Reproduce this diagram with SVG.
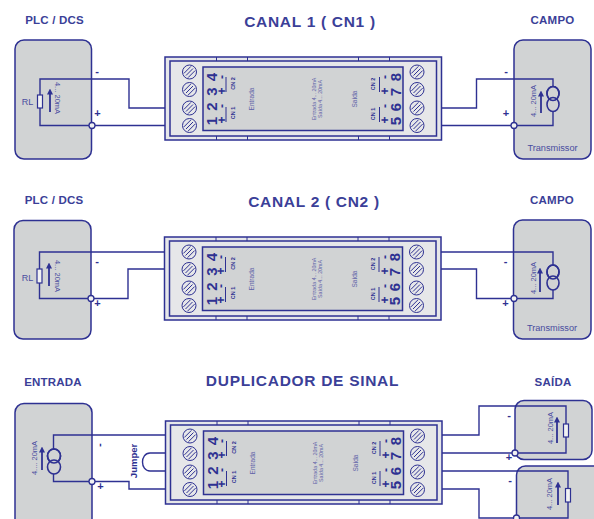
<svg xmlns="http://www.w3.org/2000/svg" xmlns:xlink="http://www.w3.org/1999/xlink" width="594" height="519" viewBox="0 0 594 519">
<style>
text{font-family:"Liberation Sans",Arial,sans-serif;fill:#2e3192}
.h{font-weight:bold;font-size:11.5px;text-anchor:middle;fill:#3b3f98;letter-spacing:.2px}
.t{font-weight:bold;font-size:15.5px;text-anchor:middle;fill:#3b3f98;letter-spacing:.7px}
.box{fill:#d1d3d4;stroke:#2e3192;stroke-width:1.5}
.w{fill:none;stroke:#2e3192;stroke-width:1.4}
.o{fill:#e6e7e9;stroke:#2e3192;stroke-width:1.5}
.p{fill:#d1d3d4;stroke:#2e3192;stroke-width:1.5}
.tk{stroke:#2e3192;stroke-width:1;fill:none}
.ar{stroke:#2e3192;stroke-width:1.8;fill:none}
.sc{fill:#e6e7e9;stroke:#2e3192;stroke-width:1}
.d{font-weight:bold;font-size:15px;text-anchor:middle}
.s{font-weight:bold;font-size:12px;text-anchor:middle}
.c{font-weight:bold;font-size:5.5px;text-anchor:middle}
.l{font-size:5.3px;text-anchor:middle;fill:#5f62a8}
.m{font-size:6.5px;text-anchor:middle;fill:#5f62a8}
.v{font-size:7.5px;text-anchor:middle;fill:#4a4da0}
.r{font-size:9.2px;text-anchor:middle;fill:#4a4da0}
.sg{font-weight:bold;font-size:11px;text-anchor:middle}
.rs{fill:#f1f2f2;stroke:#2e3192;stroke-width:1.2}
.e{fill:#d1d3d4;stroke:#2e3192;stroke-width:1.6}
.n{fill:#f1f2f2;stroke:#2e3192;stroke-width:1.3}
</style>
<defs>
<g id="sw"><circle class="sc" r="7"/><path class="tk" d="M-5.600 1.400L1.400-5.600M-3.500 3.500L3.500-3.500M-1.400 5.600L5.600-1.400"/></g>
<marker id="ah" markerWidth="6" markerHeight="6" refX="0.5" refY="3" orient="auto" markerUnits="userSpaceOnUse"><path d="M0 0L6 3L0 6z" fill="#2e3192"/></marker>
</defs>

<g id="titles">
<text class="t" x="310" y="27">CANAL 1 ( CN1 )</text>
<text class="h" x="54.500" y="24">PLC / DCS</text>
<text class="h" x="552.500" y="24">CAMPO</text>
<text class="t" x="314" y="207">CANAL 2 ( CN2 )</text>
<text class="h" x="54" y="204">PLC / DCS</text>
<text class="h" x="552" y="204">CAMPO</text>
<text class="t" x="302.500" y="386">DUPLICADOR DE SINAL</text>
<text class="h" x="53" y="386">ENTRADA</text>
<text class="h" x="553" y="386">SAÍDA</text>
</g>

<g id="plc1"><rect class="box" x="15" y="40" width="76.500" height="119" rx="9"/><text class="r" style="font-size:9px" x="27.500" y="105">RL</text></g>
<g id="campo1"><rect class="box" x="514" y="40" width="77" height="119" rx="9"/><text class="r" x="552.500" y="151">Transmissor</text></g>
<g id="plc2"><rect class="box" x="14" y="220.500" width="77" height="118.500" rx="9"/><text class="r" style="font-size:9px" x="27.500" y="281">RL</text></g>
<g id="campo2"><rect class="box" x="513.500" y="220" width="77.500" height="119" rx="9"/><text class="r" x="552" y="331">Transmissor</text></g>
<g id="entrada"><rect class="box" x="15" y="403.500" width="77" height="125" rx="9"/></g>
<g id="saida1"><rect class="box" x="515" y="400.500" width="77" height="59" rx="9"/></g>
<g id="saida2"><rect class="box" x="516.500" y="466" width="90" height="70" rx="9"/></g>

<g id="module1">
<rect class="o" x="165" y="57" width="276.500" height="83"/><rect class="o" x="170" y="61" width="266.500" height="75"/><rect class="p" x="203" y="67" width="200" height="63.500"/>
<path class="tk" d="M216.500 57V61M247.500 57V61M358.500 57V61M389.500 57V61M216.500 136V140M247.500 136V140M358.500 136V140M389.500 136V140M226 77V92M226 107V122M379.500 77V92M379.500 107V122"/>
<use xlink:href="#sw" href="#sw" x="189.500" y="72"/><use xlink:href="#sw" href="#sw" x="189.500" y="89.500"/><use xlink:href="#sw" href="#sw" x="189.500" y="108"/><use xlink:href="#sw" href="#sw" x="189.500" y="125.500"/>
<use xlink:href="#sw" href="#sw" x="417" y="72"/><use xlink:href="#sw" href="#sw" x="417" y="89.500"/><use xlink:href="#sw" href="#sw" x="417" y="108"/><use xlink:href="#sw" href="#sw" x="417" y="125.500"/>
<text class="d" transform="translate(217 121) rotate(-90)">1</text><text class="d" transform="translate(217 106.500) rotate(-90)">2</text><text class="d" transform="translate(217 91.500) rotate(-90)">3</text><text class="d" transform="translate(217 77) rotate(-90)">4</text>
<text class="s" transform="translate(225.500 120) rotate(-90)">+</text><text class="s" transform="translate(225.500 106) rotate(-90)">-</text><text class="s" transform="translate(225.500 91) rotate(-90)">+</text><text class="s" transform="translate(225.500 77) rotate(-90)">-</text>
<text class="c" transform="translate(235 113) rotate(-90)">CN 1</text><text class="c" transform="translate(235 83.500) rotate(-90)">CN 2</text>
<text class="m" transform="translate(254 99) rotate(-90)">Entrada</text>
<text class="l" transform="translate(316 99) rotate(-90)">Entrada 4... 20mA</text><text class="l" transform="translate(322 99) rotate(-90)">Saída 4... 20mA</text>
<text class="m" transform="translate(357 99) rotate(-90)">Saída</text>
<text class="c" transform="translate(375 114) rotate(-90)">CN 1</text><text class="c" transform="translate(375 84) rotate(-90)">CN 2</text>
<text class="s" transform="translate(389 120) rotate(-90)">+</text><text class="s" transform="translate(389 106) rotate(-90)">-</text><text class="s" transform="translate(389 91) rotate(-90)">+</text><text class="s" transform="translate(389 77) rotate(-90)">-</text>
<text class="d" transform="translate(400.500 121) rotate(-90)">5</text><text class="d" transform="translate(400.500 107) rotate(-90)">6</text><text class="d" transform="translate(400.500 92) rotate(-90)">7</text><text class="d" transform="translate(400.500 77) rotate(-90)">8</text>
</g>

<g id="module2" transform="translate(-0.5 180)">
<rect class="o" x="165" y="57" width="276.500" height="83"/><rect class="o" x="170" y="61" width="266.500" height="75"/><rect class="p" x="203" y="67" width="200" height="63.500"/>
<path class="tk" d="M216.500 57V61M247.500 57V61M358.500 57V61M389.500 57V61M216.500 136V140M247.500 136V140M358.500 136V140M389.500 136V140M226 77V92M226 107V122M379.500 77V92M379.500 107V122"/>
<use xlink:href="#sw" href="#sw" x="189.500" y="72"/><use xlink:href="#sw" href="#sw" x="189.500" y="89.500"/><use xlink:href="#sw" href="#sw" x="189.500" y="108"/><use xlink:href="#sw" href="#sw" x="189.500" y="125.500"/>
<use xlink:href="#sw" href="#sw" x="417" y="72"/><use xlink:href="#sw" href="#sw" x="417" y="89.500"/><use xlink:href="#sw" href="#sw" x="417" y="108"/><use xlink:href="#sw" href="#sw" x="417" y="125.500"/>
<text class="d" transform="translate(217 121) rotate(-90)">1</text><text class="d" transform="translate(217 106.500) rotate(-90)">2</text><text class="d" transform="translate(217 91.500) rotate(-90)">3</text><text class="d" transform="translate(217 77) rotate(-90)">4</text>
<text class="s" transform="translate(225.500 120) rotate(-90)">+</text><text class="s" transform="translate(225.500 106) rotate(-90)">-</text><text class="s" transform="translate(225.500 91) rotate(-90)">+</text><text class="s" transform="translate(225.500 77) rotate(-90)">-</text>
<text class="c" transform="translate(235 113) rotate(-90)">CN 1</text><text class="c" transform="translate(235 83.500) rotate(-90)">CN 2</text>
<text class="m" transform="translate(254 99) rotate(-90)">Entrada</text>
<text class="l" transform="translate(316 99) rotate(-90)">Entrada 4... 20mA</text><text class="l" transform="translate(322 99) rotate(-90)">Saída 4... 20mA</text>
<text class="m" transform="translate(357 99) rotate(-90)">Saída</text>
<text class="c" transform="translate(375 114) rotate(-90)">CN 1</text><text class="c" transform="translate(375 84) rotate(-90)">CN 2</text>
<text class="s" transform="translate(389 120) rotate(-90)">+</text><text class="s" transform="translate(389 106) rotate(-90)">-</text><text class="s" transform="translate(389 91) rotate(-90)">+</text><text class="s" transform="translate(389 77) rotate(-90)">-</text>
<text class="d" transform="translate(400.500 121) rotate(-90)">5</text><text class="d" transform="translate(400.500 107) rotate(-90)">6</text><text class="d" transform="translate(400.500 92) rotate(-90)">7</text><text class="d" transform="translate(400.500 77) rotate(-90)">8</text>
</g>

<g id="module3" transform="translate(0.5 364)">
<rect class="o" x="165" y="57" width="276.500" height="83"/><rect class="o" x="170" y="61" width="266.500" height="75"/><rect class="p" x="203" y="67" width="200" height="63.500"/>
<path class="tk" d="M216.500 57V61M247.500 57V61M358.500 57V61M389.500 57V61M216.500 136V140M247.500 136V140M358.500 136V140M389.500 136V140M226 77V92M226 107V122M379.500 77V92M379.500 107V122"/>
<use xlink:href="#sw" href="#sw" x="189.500" y="72"/><use xlink:href="#sw" href="#sw" x="189.500" y="89.500"/><use xlink:href="#sw" href="#sw" x="189.500" y="108"/><use xlink:href="#sw" href="#sw" x="189.500" y="125.500"/>
<use xlink:href="#sw" href="#sw" x="417" y="72"/><use xlink:href="#sw" href="#sw" x="417" y="89.500"/><use xlink:href="#sw" href="#sw" x="417" y="108"/><use xlink:href="#sw" href="#sw" x="417" y="125.500"/>
<text class="d" transform="translate(217 121) rotate(-90)">1</text><text class="d" transform="translate(217 106.500) rotate(-90)">2</text><text class="d" transform="translate(217 91.500) rotate(-90)">3</text><text class="d" transform="translate(217 77) rotate(-90)">4</text>
<text class="s" transform="translate(225.500 120) rotate(-90)">+</text><text class="s" transform="translate(225.500 106) rotate(-90)">-</text><text class="s" transform="translate(225.500 91) rotate(-90)">+</text><text class="s" transform="translate(225.500 77) rotate(-90)">-</text>
<text class="c" transform="translate(235 113) rotate(-90)">CN 1</text><text class="c" transform="translate(235 83.500) rotate(-90)">CN 2</text>
<text class="m" transform="translate(254 99) rotate(-90)">Entrada</text>
<text class="l" transform="translate(316 99) rotate(-90)">Entrada 4... 20mA</text><text class="l" transform="translate(322 99) rotate(-90)">Saída 4... 20mA</text>
<text class="m" transform="translate(357 99) rotate(-90)">Saída</text>
<text class="c" transform="translate(375 114) rotate(-90)">CN 1</text><text class="c" transform="translate(375 84) rotate(-90)">CN 2</text>
<text class="s" transform="translate(389 120) rotate(-90)">+</text><text class="s" transform="translate(389 106) rotate(-90)">-</text><text class="s" transform="translate(389 91) rotate(-90)">+</text><text class="s" transform="translate(389 77) rotate(-90)">-</text>
<text class="d" transform="translate(400.500 121) rotate(-90)">5</text><text class="d" transform="translate(400.500 107) rotate(-90)">6</text><text class="d" transform="translate(400.500 92) rotate(-90)">7</text><text class="d" transform="translate(400.500 77) rotate(-90)">8</text>
</g>

<g id="connectors">
<path class="w" d="M165 108H129V79H40V125.500H165"/>
<path class="w" d="M441.500 108H476.500V79H553V125.500H441.500"/>
<path class="w" d="M164.500 252H39.500V298.500H128V269H164.500"/>
<path class="w" d="M441 252H553V298.500H476.500V269H441"/>
<path class="w" d="M165.500 435H53.500V481.500H129V489H165.500"/>
<path class="w" d="M165.500 453H150C140 453 140 471 150 471H165.500"/>
<path class="w" d="M442 435H479V406H566V453H442"/>
<path class="w" d="M442 471H568V518H479V489H442"/>
<path class="ar" marker-end="url(#ah)" d="M50 112V94"/>
<path class="ar" marker-end="url(#ah)" d="M541 113V96"/>
<path class="ar" marker-end="url(#ah)" d="M49 286V268"/>
<path class="ar" marker-end="url(#ah)" d="M540 292V273"/>
<path class="ar" marker-end="url(#ah)" d="M42 470V452"/>
<path class="ar" marker-end="url(#ah)" d="M557 443V422"/>
<path class="ar" marker-end="url(#ah)" d="M558 505V487"/>
</g>

<g id="rl1"><rect class="rs" x="37.500" y="95" width="5" height="13"/></g>
<g id="src1"><ellipse class="e" cx="553" cy="93.500" rx="6" ry="7"/><ellipse class="e" cx="553" cy="104.500" rx="6" ry="7"/><ellipse class="e" style="fill:none" cx="553" cy="93.500" rx="6" ry="7"/></g>
<g id="rl2"><rect class="rs" x="37" y="269" width="5" height="14"/></g>
<g id="src2"><ellipse class="e" cx="553" cy="272" rx="6" ry="7"/><ellipse class="e" cx="553" cy="283" rx="6" ry="7"/><ellipse class="e" style="fill:none" cx="553" cy="272" rx="6" ry="7"/></g>
<g id="src3"><ellipse class="e" cx="54" cy="456" rx="6.500" ry="7"/><ellipse class="e" cx="54" cy="467" rx="6.500" ry="7"/><ellipse class="e" style="fill:none" cx="54" cy="456" rx="6.500" ry="7"/></g>
<g id="rl3"><rect class="rs" x="563.500" y="424" width="5" height="13"/></g>
<g id="rl4"><rect class="rs" x="565.500" y="488.500" width="5" height="13.500"/></g>
<g id="nodes-dot">
<circle class="n" cx="92" cy="125.500" r="3"/><circle class="n" cx="514" cy="125.500" r="3"/>
<circle class="n" cx="91" cy="298.500" r="3"/><circle class="n" cx="514" cy="298.500" r="3"/>
<circle class="n" cx="92" cy="481.500" r="3"/><circle class="n" cx="515" cy="453" r="3"/><circle class="n" cx="516.500" cy="518" r="3"/>
</g>
<g id="labels">
<text class="v" transform="translate(54.500 98) rotate(90)">4... 20mA</text>
<text class="v" transform="translate(536 101) rotate(-90)">4... 20mA</text>
<text class="v" transform="translate(54.500 276) rotate(90)">4... 20mA</text>
<text class="v" transform="translate(536 278) rotate(-90)">4... 20mA</text>
<text class="v" transform="translate(37 458) rotate(-90)">4.... 20mA</text>
<text class="v" transform="translate(553 428) rotate(-90)">4... 20mA</text>
<text class="v" transform="translate(552 494) rotate(-90)">4... 20mA</text>
<text class="sg" transform="translate(137 461) rotate(-90)" style="font-size:9.500px">Jumper</text>
<text class="sg" x="97" y="75">-</text><text class="sg" x="97.500" y="117">+</text>
<text class="sg" x="506" y="75">-</text><text class="sg" x="506" y="117">+</text>
<text class="sg" x="97" y="265">-</text><text class="sg" x="97.500" y="307">+</text>
<text class="sg" x="505.500" y="265">-</text><text class="sg" x="505.500" y="307">+</text>
<text class="sg" transform="translate(97.500 445) rotate(90)">-</text><text class="sg" x="100.500" y="490">+</text>
<text class="sg" x="509" y="419">-</text><text class="sg" x="509" y="461">+</text>
<text class="sg" x="510" y="484">-</text>
</g>
</svg>
